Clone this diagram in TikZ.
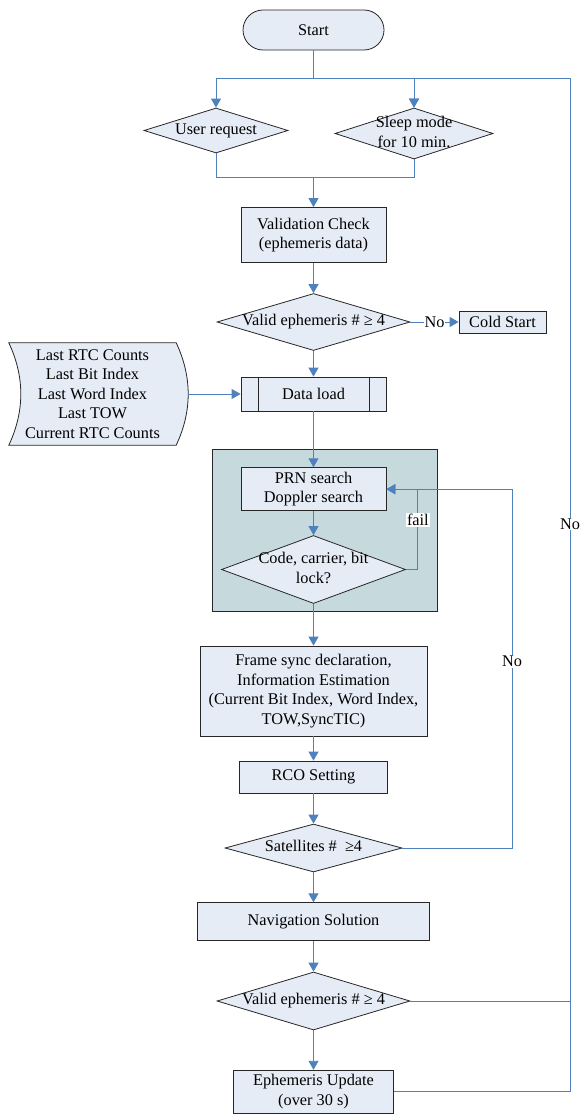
\documentclass[tikz,border=0pt]{standalone}
\usepackage{fontspec}
\setmainfont{Liberation Serif}
\usetikzlibrary{
    shapes.geometric,
    shapes.misc,
    arrows.meta,
    backgrounds
}
\definecolor{boxfill}{HTML}{E6ECF6}
\definecolor{groupfill}{HTML}{C6D9DC}
\definecolor{flowblue}{HTML}{4F81BD}
\newcommand{\squeezed}[1]{\makebox[0pt]{\begin{tabular}{@{}c@{}}#1\end{tabular}}}
\tikzset {
    box/.style = {draw = black!85, fill = boxfill, line width = 0.8pt, align = center, inner sep = 2pt},
    wh/.style 2 args = {minimum width = #1, minimum height = #2},
    process/.style = {box, rectangle},
    terminal/.style = {box, rounded rectangle},
    decision/.style = {box, diamond, inner sep = 0pt, aspect = 1},
    group/.style = {draw = black!85, fill = groupfill, line width = 0.8pt, inner sep = 0pt},
    %
    flow/.style = {draw = flowblue, line width = 0.9pt},
    flow arrow/.style = {flow, -{Triangle[length = 9pt, width = 10pt]}},
    edge label/.style = {fill = white, inner sep = 1pt, text = black}
}

\begin{document}
\begin{tikzpicture}[x = 1pt, y = -1pt, font = \fontsize{16.3}{19.5}\selectfont]
    \useasboundingbox (0, 0) rectangle (579, 1115);
    \coordinate (split) at (313.5, 78);
    \coordinate (join) at (313.5, 177);
    \coordinate (rtop) at (570, 78);
    \coordinate (back) at (512, 489.2);
    \node (grp) [group, wh = {225}{162}] at (324.5, 530) {};
    \node (start) [terminal, wh = {145}{40}] at (313.5, 30) {Start};
    \node (user) [decision, wh = {144}{45}] at (216, 130.5) {\squeezed{User request}};
    \node (sleep) [decision, wh = {158}{51}] at (414, 133.5) {\squeezed{Sleep mode\\for 10 min.}};
    \node (check) [process, wh = {145}{55}] at (313.5, 235) {Validation Check\\(ephemeris data)};
    \node (valid1) [decision, wh = {193}{57}] at (313.5, 322) {\squeezed{Valid ephemeris \# ≥ 4}};
    \node (cold) [process, wh = {87}{22}] at (502.5, 322) {Cold Start};
    \node (mem) [align = center, wh = {167}{102}, inner sep = 0pt] at (92.5, 394)
        {Last RTC Counts\\Last Bit Index\\Last Word Index\\Last TOW\\Current RTC Counts};
    \node (load) [process, wh = {145}{34}] at (313.5, 394) {Data load};
    \node (prn) [process, wh = {145}{43}] at (313.5, 489.2) {PRN search\\Doppler search};
    \node (code) [decision, wh = {184}{68}] at (313.5, 569.5) {\squeezed{Code, carrier, bit\\lock?}};
    \node (frame) [process, wh = {227}{90}] at (313.5, 691)
        {Frame sync declaration,\\Information Estimation\\(Current Bit Index, Word Index,\\TOW,SyncTIC)};
    \node (rco) [process, wh = {148}{32}] at (313.5, 777) {RCO Setting};
    \node (sat) [decision, wh = {177}{48}] at (313.5, 848) {\squeezed{Satellites \#\ \ ≥4}};
    \node (nav) [process, wh = {232}{38}] at (313.5, 921.7) {Navigation Solution};
    \node (valid2) [decision, wh = {193}{58}] at (313.5, 1001) {\squeezed{Valid ephemeris \# ≥ 4}};
    \node (upd) [process, wh = {160}{43}] at (313.5, 1091.7) {Ephemeris Update\\(over 30 s)};
    \draw [draw = black!85, line width = 0.8pt] ([xshift = 18pt]load.north west) -- ([xshift = 18pt]load.south west)
        ([xshift = -17pt]load.north east) -- ([xshift = -17pt]load.south east);
    \begin{scope}[on background layer]
        \draw [box] (mem.north west) -- (mem.north east)
            .. controls +(16, 34) and +(16, -34) .. (mem.south east) -- (mem.south west)
            .. controls +(16, -34) and +(16, 34) .. (mem.north west) -- cycle;
    \end{scope}
    \draw [flow] (start) -- (split);
    \draw [flow arrow] (split) -| (user);
    \draw [flow arrow] (split) -| (sleep);
    \draw [flow] (user) |- (join);
    \draw [flow] (sleep) |- (join);
    \draw [flow arrow] (join) -- (check);
    \draw [flow arrow] (check) -- (valid1);
    \draw [flow arrow] (valid1) -- node [edge label] {No} (cold);
    \draw [flow arrow] (valid1) -- (load);
    \draw [flow arrow] ([xshift = 12pt]mem.east) -- (load);
    \draw [flow arrow] (load) -- (prn);
    \draw [flow arrow] (prn) -- (code);
    \draw [flow arrow] (code.east) -- ++(12, 0) |- node [edge label, pos = 0.31] {fail} (prn.east);
    \draw [flow arrow] (code) -- (frame);
    \draw [flow arrow] (frame) -- (rco);
    \draw [flow arrow] (rco) -- (sat);
    \draw [flow arrow] (sat.east) -| node [edge label, pos = 0.76] {No} (back) -- (prn.east);
    \draw [flow arrow] (sat) -- (nav);
    \draw [flow arrow] (nav) -- (valid2);
    \draw [flow arrow] (valid2) -- (upd);
    \draw [flow arrow] (upd.east) -| node [edge label, pos = 0.78] {No} (rtop) -| (sleep);
    \draw [flow] (valid2.east) -- (valid2.east -| rtop);
\end{tikzpicture}
\end{document}
